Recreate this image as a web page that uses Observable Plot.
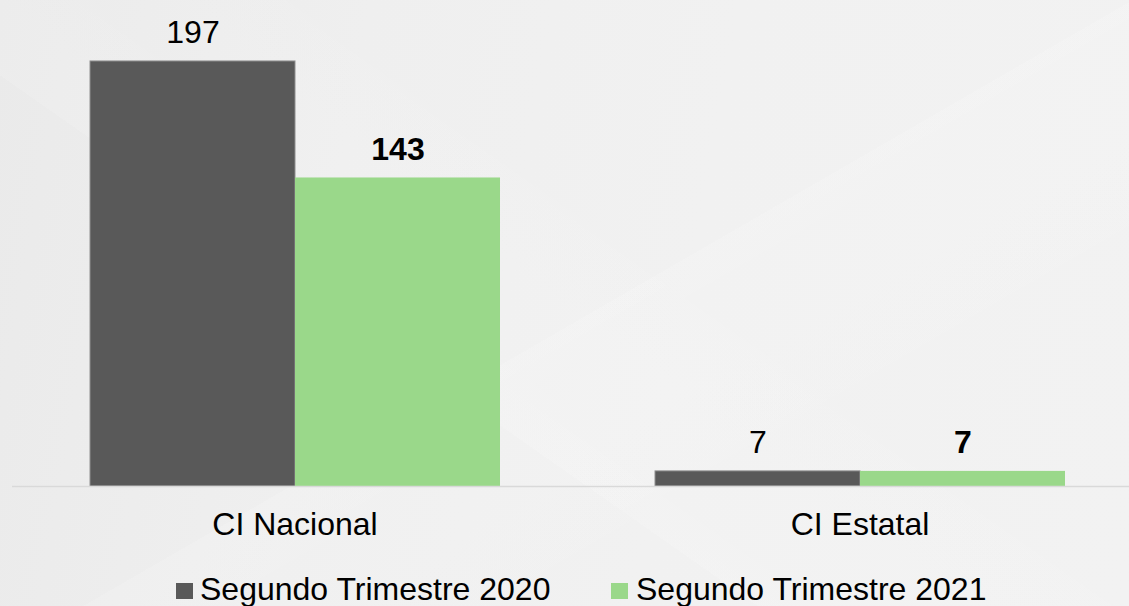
<!DOCTYPE html>
<html>
<head>
<meta charset="utf-8">
<script src="https://cdn.jsdelivr.net/npm/d3@7"></script>
<script src="https://cdn.jsdelivr.net/npm/@observablehq/plot@0.6"></script>
<style>
  html, body { margin: 0; padding: 0; }
  body {
    width: 1129px; height: 606px; overflow: hidden; position: relative;
    font-family: "Liberation Sans", Arial, sans-serif;
    background:
      linear-gradient(150deg, rgba(255,255,255,0) 52%, rgba(255,255,255,0.12) 52%, rgba(255,255,255,0) 78%),
      linear-gradient(35deg, rgba(255,255,255,0) 38%, rgba(255,255,255,0.12) 38%, rgba(255,255,255,0) 64%),
      linear-gradient(100deg, #eaeaea 0%, #efefef 30%, #f1f1f1 60%, #f2f2f2 100%);
  }
  #chart { position: absolute; left: 0; top: 0; }
  #legend { position: absolute; left: 0; top: 0; width: 1129px; height: 606px; font-size: 32px; line-height: 32px; color: #000; pointer-events: none; }
  .sw { position: absolute; width: 17px; height: 16px; top: 583px; }
  .lt { position: absolute; top: 573px; white-space: nowrap; }
</style>
</head>
<body>
<div id="chart"></div>
<div id="legend"></div>
<script>
const categories = ["CI Nacional", "CI Estatal"];
const series = ["Segundo Trimestre 2020", "Segundo Trimestre 2021"];
const values2020 = [197, 7];
const values2021 = [143, 7];
const colors = ["#595959", "#9AD88A"];

const data = [];
categories.forEach((c, i) => {
  data.push({category: c, series: series[0], value: values2020[i]});
  data.push({category: c, series: series[1], value: values2021[i]});
});
const data2020 = data.filter(d => d.series === series[0]);
const data2021 = data.filter(d => d.series === series[1]);

const plot = Plot.plot({
  width: 1129,
  height: 560,
  marginLeft: 11,
  marginRight: -13,
  marginTop: 54.5,
  marginBottom: 74,
  style: {background: "transparent", fontFamily: "Liberation Sans, Arial, sans-serif"},
  fx: {domain: categories, padding: 0, label: null},
  x: {domain: series, paddingInner: 0, paddingOuter: 0.376, axis: null},
  y: {domain: [0, 200], axis: null},
  color: {domain: series, range: colors},
  marks: [
    Plot.barY(data2020, {fx: "category", x: "series", y: "value", fill: "series", inset: 0,
      stroke: "#8f8f8f", strokeWidth: 1}),
    Plot.barY(data2021, {fx: "category", x: "series", y: "value", fill: "series", inset: 0}),
    Plot.ruleY([0], {stroke: "#d9d9d9", strokeWidth: 1.5}),
    Plot.text(data2020, {fx: "category", x: "series", y: "value", text: d => String(d.value),
      lineAnchor: "bottom", dy: -18, fontSize: 32, fill: "#000"}),
    Plot.text(data2021, {fx: "category", x: "series", y: "value", text: d => String(d.value),
      lineAnchor: "bottom", dy: -18, fontSize: 32, fill: "#000", fontWeight: "bold"}),
    Plot.axisFx({anchor: "bottom", tickSize: 0, tickPadding: 26, fontSize: 32, label: null, color: "#000"})
  ]
});
document.getElementById("chart").appendChild(plot);

const swatchX = [176, 611];
const textX = [200, 636];
const legend = d3.select("#legend");
series.forEach((s, i) => {
  legend.append("div").attr("class", "sw").style("left", swatchX[i] + "px").style("background", colors[i]);
  legend.append("div").attr("class", "lt").style("left", textX[i] + "px").text(s);
});
</script>
</body>
</html>
